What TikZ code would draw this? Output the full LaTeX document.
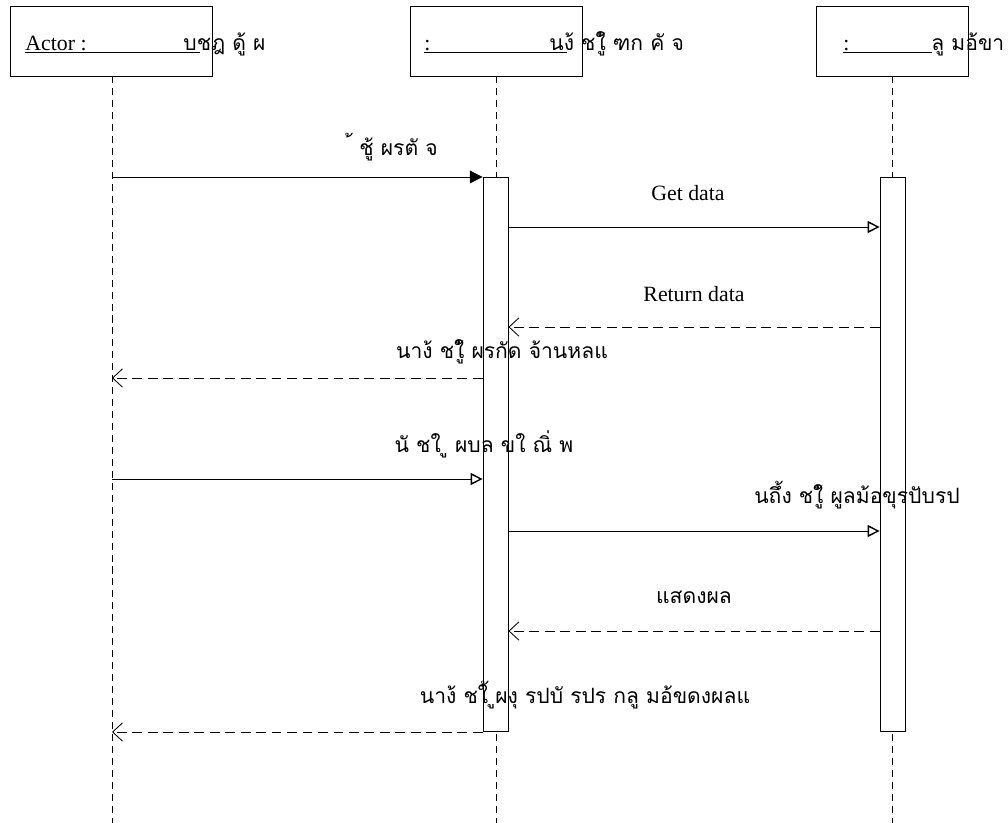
\documentclass[tikz,border=0pt]{standalone}
\usepackage{fontspec}
\setmainfont{Liberation Serif}
\newfontfamily\thaifont[Script=Thai]{Loma}
\usetikzlibrary{arrows.meta,positioning,calc}

\begin{document}
\begin{tikzpicture}[x=0.025cm, y=-0.025cm, line width=0.6pt,
    txt/.style={font=\fontsize{15.5}{18}\selectfont, inner sep=0pt},
    thai/.style={font=\fontsize{15}{18}\selectfont\thaifont, inner sep=0pt},
    objbox/.style={rectangle, draw, minimum width=#1, minimum height=1.75cm, inner sep=0pt},
    lifeline/.style={dash pattern=on 5pt off 3.5pt},
    actbar/.style={rectangle, draw, fill=white, minimum width=0.625cm, minimum height=13.85cm, inner sep=0pt},
    call/.style={-{Triangle[open, length=8.5pt, width=8.5pt, fill=white, line width=1pt]}},
    firstcall/.style={-{Triangle[length=9pt, width=9pt]}},
    reply/.style={dash pattern=on 7pt off 4pt, -{Straight Barb[length=7pt, width=13pt]}}]

    \useasboundingbox (0,0) rectangle (1008,823);

    % Objects
    \node[objbox=5.05cm] (user) at (111,41) {};
    \node[objbox=4.3cm]  (mgr)  at (496,41) {};
    \node[objbox=3.78cm] (db)   at (892.5,41) {};

    \node[txt, anchor=base west] (userlbl) at (25,50) {Actor :};
    \node[thai, anchor=base west] (userthai) at (183,50) {บชฎ ดู้ ผ};
    \node[txt, anchor=base west] (mgrlbl) at (424,50) {:};
    \node[thai, anchor=base west] (mgrthai) at (549,50) {นง้ ชใู้ ฑก คั จ};
    \node[txt, anchor=base west] (dblbl) at (843,50) {:};
    \node[thai, anchor=base west] (dbthai) at (931,50) {ลู มอ้ขา};

    \draw[line width=0.5pt] (userlbl.base west) ++(0,2.5) -- (200,52.5);
    \draw[line width=0.5pt] (mgrlbl.base west) ++(0,2.5) -- (567,52.5);
    \draw[line width=0.5pt] (dblbl.base west) ++(0,2.5) -- (932,52.5);

    % Lifelines
    \coordinate (userend) at (112,823);
    \coordinate (mgrend) at (496,823);
    \coordinate (dbend) at (892,823);
    \draw[lifeline] (user.south -| userend) -- (userend);
    \draw[lifeline] (mgr.south -| mgrend) -- (mgrend);
    \draw[lifeline] (db.south -| dbend) -- (dbend);

    % Activations
    \node[actbar, anchor=north] (mgract) at (495.5,177) {};
    \node[actbar, anchor=north] (dbact) at (892.5,177) {};

    % Messages
    \foreach \n/\y in {1/177,2/227,3/327,4/378,5/479,6/531,7/631,8/732}
        \coordinate (m\n) at (0,\y);

    \draw[firstcall] (userend |- m1) -- (mgract.west |- m1);
    \draw[call] (mgract.east |- m2) -- (dbact.west |- m2);
    \draw[reply] (dbact.west |- m3) -- (mgract.east |- m3);
    \draw[reply] (mgract.west |- m4) -- (userend |- m4);
    \draw[call] (userend |- m5) -- (mgract.west |- m5);
    \draw[call] (mgract.east |- m6) -- (dbact.west |- m6);
    \draw[reply] (dbact.west |- m7) -- (mgract.east |- m7);
    \draw[reply] (mgract.west |- m8) -- (userend |- m8);

    \node[thai, anchor=base] (lbl1) at (395,155) {้ ชู้ ผรตั จ};
    \node[txt, anchor=base] (lbl2) at (688,200) {Get data};
    \node[txt, anchor=base] (lbl3) at (694,301) {Return data};
    \node[thai, anchor=base] (lbl4) at (502,358) {นาง้ ชใู้ ผรกัด จ้านหลแ};
    \node[thai, anchor=base] (lbl5) at (484,452) {นั ชใ ู ผบล ขใ ณิ่ พ};
    \node[thai, anchor=base] (lbl6) at (857,503) {นถึ้ง ชใู้ ผูลม้อขุรปับรป};
    \node[thai, anchor=base] (lbl7) at (694,603) {แสดงผล};
    \node[thai, anchor=base] (lbl8) at (585,703) {นาง้ ชใ้ ูผงุ รปบั รปร กลู มอ้ขดงผลแ};
\end{tikzpicture}
\end{document}
